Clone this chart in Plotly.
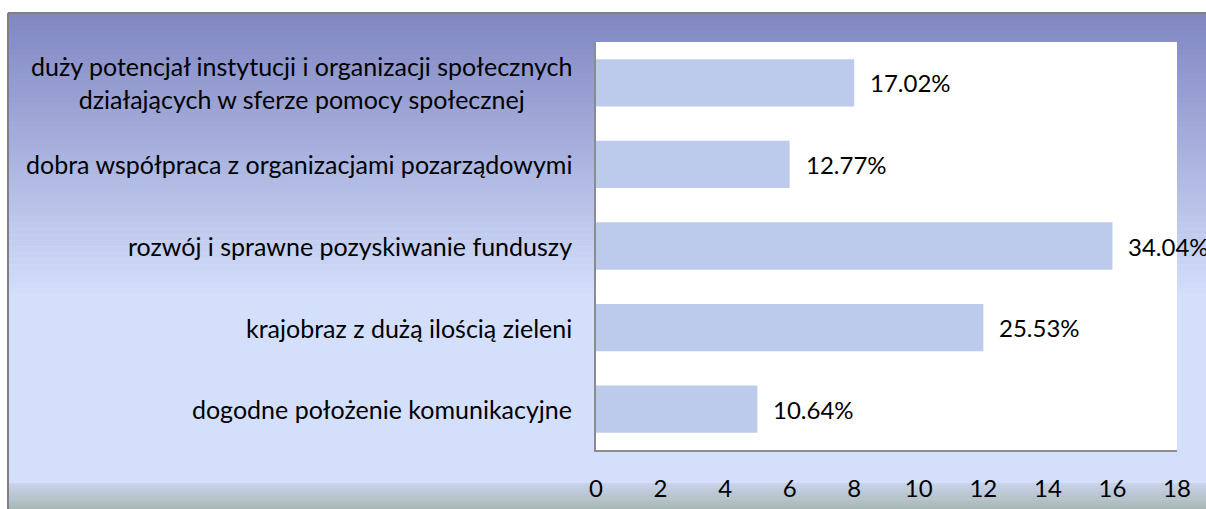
import plotly.graph_objects as go

# dane z wykresu (kolejność od góry)
categories = [
    "duży potencjał instytucji i organizacji społecznych<br>działających w sferze pomocy społecznej",
    "dobra współpraca z organizacjami pozarządowymi",
    "rozwój i sprawne pozyskiwanie funduszy",
    "krajobraz z dużą ilością zieleni",
    "dogodne położenie komunikacyjne",
]
counts = [8, 6, 16, 12, 5]
percent_labels = ["17.02%", "12.77%", "34.04%", "25.53%", "10.64%"]
x_ticks = [0, 2, 4, 6, 8, 10, 12, 14, 16, 18]

W, H = 1206, 509
L, R, T, B = 596, 29, 42, 59
pw, ph = W - L - R, H - T - B
FONT = "Lato"
FS = 24


def px_x(p):
    return (p - L) / pw


def px_y(p):
    return (H - B - p) / ph


def mix(c1, c2, t):
    return "rgb(%d,%d,%d)" % tuple(round(a + (b - a) * t) for a, b in zip(c1, c2))


fig = go.Figure()

fig.add_trace(go.Bar(
    x=counts, y=categories, orientation="h",
    marker=dict(color="#bccbec", line=dict(width=0)),
    width=0.58, showlegend=False, hoverinfo="skip",
))

shapes = []
# tło: gradient pionowy z pasków
top, mid, band, bottom = 13, 300, 483, 510
c_top, c_mid = (128, 135, 195), (212, 223, 251)
n = 48
for i in range(n):
    y0 = top + (mid - top) * i / n
    y1 = top + (mid - top) * (i + 1) / n + 0.6
    shapes.append(dict(type="rect", xref="paper", yref="paper", layer="below",
                       x0=px_x(9), x1=px_x(W + 5), y0=px_y(y0), y1=px_y(y1),
                       fillcolor=mix(c_top, c_mid, i / (n - 1)), line=dict(width=0)))
shapes.append(dict(type="rect", xref="paper", yref="paper", layer="below",
                   x0=px_x(9), x1=px_x(W + 5), y0=px_y(mid), y1=px_y(band),
                   fillcolor=mix(c_mid, c_mid, 0), line=dict(width=0)))
c_b0, c_b1 = (200, 210, 232), (168, 184, 181)
m = 10
for i in range(m):
    y0 = band + (bottom - band) * i / m
    y1 = band + (bottom - band) * (i + 1) / m + 0.6
    shapes.append(dict(type="rect", xref="paper", yref="paper", layer="below",
                       x0=px_x(9), x1=px_x(W + 5), y0=px_y(y0), y1=px_y(y1),
                       fillcolor=mix(c_b0, c_b1, i / (m - 1)), line=dict(width=0)))
# ramka (lewa i górna krawędź)
shapes.append(dict(type="line", xref="paper", yref="paper", x0=px_x(8), x1=px_x(W + 5),
                   y0=px_y(13), y1=px_y(13), line=dict(color="#808080", width=2)))
shapes.append(dict(type="line", xref="paper", yref="paper", x0=px_x(8), x1=px_x(8),
                   y0=px_y(13), y1=px_y(H + 5), line=dict(color="#808080", width=2)))
# białe pole wykresu
shapes.append(dict(type="rect", xref="paper", yref="paper", layer="below",
                   x0=0, x1=1, y0=0, y1=1, fillcolor="white", line=dict(width=0)))

annotations = []
for cat, v, lab in zip(categories, counts, percent_labels):
    annotations.append(dict(x=v, y=cat, xref="x", yref="y", text=lab, showarrow=False,
                            xanchor="left", xshift=14, font=dict(size=FS, color="black", family=FONT)))
    annotations.append(dict(x=0, y=cat, xref="paper", yref="y", text=cat, showarrow=False,
                            xanchor="right", xshift=-22, align="center",
                            font=dict(size=25, color="black", family=FONT)))

fig.update_layout(
    width=W, height=H,
    margin=dict(l=L, r=R, t=T, b=B, pad=0),
    paper_bgcolor="white", plot_bgcolor="rgba(0,0,0,0)",
    shapes=shapes, annotations=annotations,
    bargap=0.42,
    font=dict(family=FONT, size=FS, color="black"),
    xaxis=dict(range=[0, 18], tickvals=x_ticks, showgrid=False, zeroline=False,
               showline=True, linecolor="#8c8c8c", linewidth=2, ticks="", automargin=False,
               ticklabelstandoff=16, tickfont=dict(size=FS, color="black")),
    yaxis=dict(autorange="reversed", showticklabels=False, showgrid=False, automargin=False,
               showline=True, linecolor="#8c8c8c", linewidth=2, ticks=""),
)

# bez marginesu strony, żeby wykres zajął całe okno
fig.write_html("out.html", config={"displayModeBar": False},
               post_script="document.body.style.margin='0';document.body.style.overflow='hidden';")
